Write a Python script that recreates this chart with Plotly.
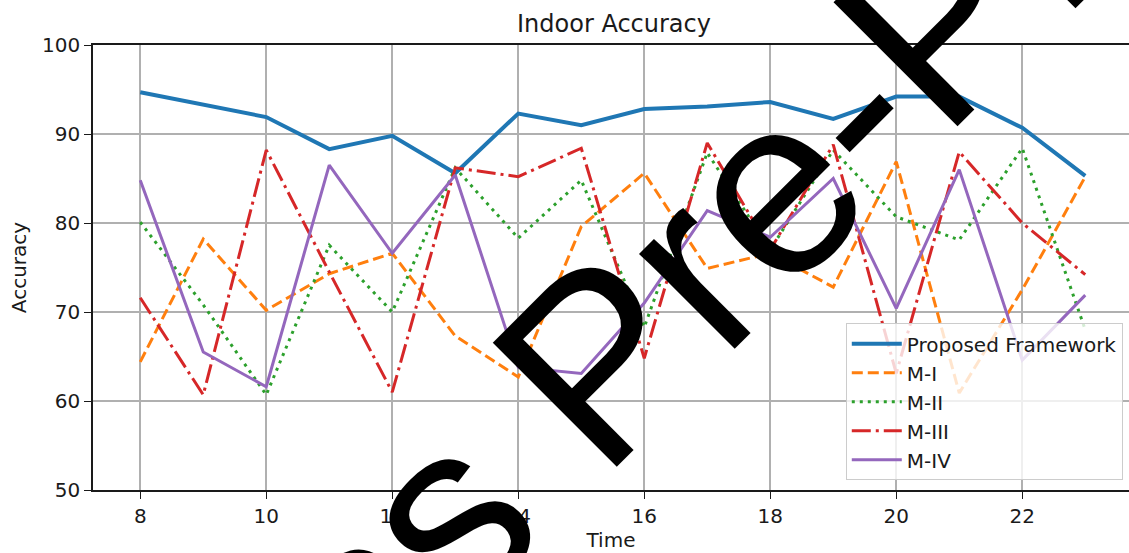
import plotly.graph_objects as go

time = [8, 9, 10, 11, 12, 13, 14, 15, 16, 17, 18, 19, 20, 21, 22, 23]
proposed = [94.7, 93.3, 91.9, 88.3, 89.8, 85.6, 92.3, 91.0, 92.8, 93.1, 93.6, 91.7, 94.2, 94.2, 90.7, 85.3]
m1 = [64.4, 78.2, 70.2, 74.3, 76.6, 67.3, 62.7, 79.6, 85.6, 74.9, 76.6, 72.8, 86.9, 60.9, 72.5, 85.2]
m2 = [80.1, 70.8, 60.7, 77.5, 70.0, 86.2, 78.3, 84.8, 68.3, 87.9, 77.0, 88.2, 80.7, 78.1, 88.4, 68.0]
m3 = [71.6, 60.7, 88.2, 74.5, 61.0, 86.2, 85.2, 88.4, 64.8, 89.0, 77.0, 88.8, 63.1, 88.0, 80.0, 74.2]
m4 = [84.8, 65.5, 61.6, 86.5, 76.6, 85.4, 63.8, 63.1, 71.0, 81.4, 78.4, 85.0, 70.4, 86.0, 64.6, 71.9]

names = ["Proposed Framework", "M-I", "M-II", "M-III", "M-IV"]
series = [proposed, m1, m2, m3, m4]
colors = ["#1f77b4", "#ff7f0e", "#2ca02c", "#d62728", "#9467bd"]
dashes = ["solid", "11px,5px", "3px,5px", "19px,5px,3px,5px", "solid"]
widths = [4, 3, 3, 3, 3]

x_ticks = [8, 10, 12, 14, 16, 18, 20, 22]
y_ticks = [50, 60, 70, 80, 90, 100]

fig = go.Figure()
for n, s, c, d, w in zip(names, series, colors, dashes, widths):
    fig.add_trace(go.Scatter(x=time, y=s, mode="lines", name=n,
                             line=dict(color=c, dash=d, width=w)))

font = "DejaVu Sans"
txt = "#1a1a1a"
fig.update_layout(
    width=1129, height=553,
    margin=dict(l=93, r=0, t=45, b=63),
    paper_bgcolor="white", plot_bgcolor="white",
    font=dict(family=font, size=20, color=txt),
    title=dict(text="Indoor Accuracy", x=614 / 1129, xanchor="center",
               y=1 - 24 / 553, yanchor="middle", font=dict(size=24, color=txt)),
    legend=dict(x=0.994, y=0.022, xanchor="right", yanchor="bottom",
                bgcolor="rgba(255,255,255,0.8)", bordercolor="#cccccc", borderwidth=1,
                itemwidth=50, font=dict(size=20, color=txt)),
    showlegend=True,
)
fig.update_xaxes(range=[7.25, 7.25 + 1036 / 63], tickvals=x_ticks, ticks="outside",
                 ticklen=7, tickwidth=1.4, tickcolor=txt, showline=True, linecolor=txt,
                 linewidth=1.5, mirror=True, showgrid=True, gridcolor="#b0b0b0",
                 gridwidth=1.5, zeroline=False,
                 title=dict(text="Time", font=dict(size=20), standoff=6))
fig.update_yaxes(range=[50, 100], tickvals=y_ticks, ticks="outside",
                 ticklen=7, tickwidth=1.4, tickcolor=txt, showline=True, linecolor=txt,
                 linewidth=1.5, mirror=False, showgrid=True, gridcolor="#b0b0b0",
                 gridwidth=1.5, zeroline=False,
                 title=dict(text="Accuracy", font=dict(size=20), standoff=10))

fig.add_annotation(text="Press Pre-Proof", xref="paper", yref="paper",
                   x=0.557, y=0.452, xanchor="center", yanchor="middle",
                   textangle=-45, showarrow=False,
                   font=dict(family="Liberation Sans", size=255, color="black"))

fig.write_html("out.html", config={"displayModeBar": False},
               post_script="document.body.style.margin='0';document.body.style.overflow='hidden';")
